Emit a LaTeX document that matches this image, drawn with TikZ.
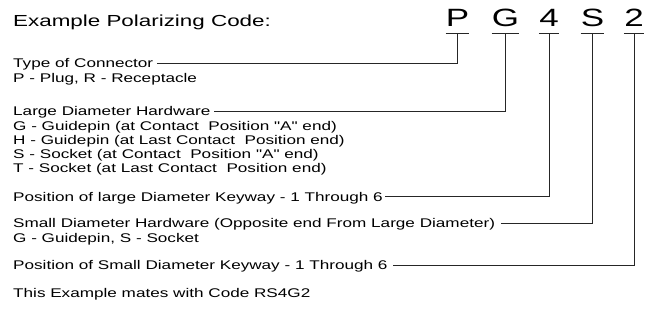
\documentclass[tikz,border=0pt]{standalone}
\usepackage{fontspec}
\setmainfont{Liberation Sans}[FakeStretch=1.4]
\newfontfamily\bodyfont{Liberation Sans}[FakeStretch=1.36]
\begin{document}
\begin{tikzpicture}[x=1pt,y=-1pt,
  body/.style={anchor=base west,inner xsep=2.5pt,inner ysep=0pt,text height=9pt,text depth=0pt,font=\bodyfont\fontsize{12.6}{14}\selectfont},
  title/.style={anchor=base west,inner sep=0pt,font=\fontsize{16}{18}\selectfont},
  code/.style={anchor=base,inner sep=0pt,minimum width=20pt,text height=18pt,text depth=6pt,font=\fontsize{25}{28}\selectfont},
  uline/.style={line width=0.8pt,black!85},
  conn/.style={line width=0.8pt,black!85}]
\useasboundingbox (0,0) rectangle (651,324);
\node[title] (ttl) at (13,26.7) {Example Polarizing Code:};
% code letters
\node[code] (cP) at (457.5,27) {P};
\node[code] (cG) at (505.5,27) {G};
\node[code] (c4) at (549,27) {4};
\node[code] (cS) at (592.5,27) {S};
\node[code] (c2) at (634,27) {2};
\foreach \n in {cP,cG,c4,cS,c2}
  \draw[uline] (\n.south west) -- (\n.south east);
% texts
\node[body] (t1) at (10.5,67.5) {Type of Connector};
\node[body] (t1a) at (10.5,82) {P - Plug, R - Receptacle};
\node[body] (t2) at (10.5,115.5) {Large Diameter Hardware};
\node[body] (t2a) at (10.5,130) {G - Guidepin (at Contact~\ Position "A" end)};
\node[body] (t2b) at (10.5,144.3) {H - Guidepin (at Last Contact~\ Position end)};
\node[body] (t2c) at (10.5,158.5) {S - Socket (at Contact~\ Position "A" end)};
\node[body] (t2d) at (10.5,172.7) {T - Socket (at Last Contact~\ Position end)};
\node[body] (t3) at (10.5,201) {Position of large Diameter Keyway - 1 Through 6};
\node[body] (t4) at (10.5,227.5) {Small Diameter Hardware (Opposite end From Large Diameter)};
\node[body] (t4a) at (10.5,242) {G - Guidepin, S - Socket};
\node[body] (t5) at (10.5,269.5) {Position of Small Diameter Keyway - 1 Through 6};
\node[body] (t6) at (10.5,297.5) {This Example mates with Code RS4G2};
% connectors
\draw[conn] ([xshift=1pt]t1.east) -| (cP.south);
\draw[conn] ([xshift=1pt]t2.east) -| (cG.south);
\draw[conn] (t3.east) -| (c4.south);
\draw[conn] ([xshift=3pt]t4.east) -| (cS.south);
\draw[conn] ([xshift=3pt]t5.east) -| (c2.south);
\end{tikzpicture}
\end{document}
